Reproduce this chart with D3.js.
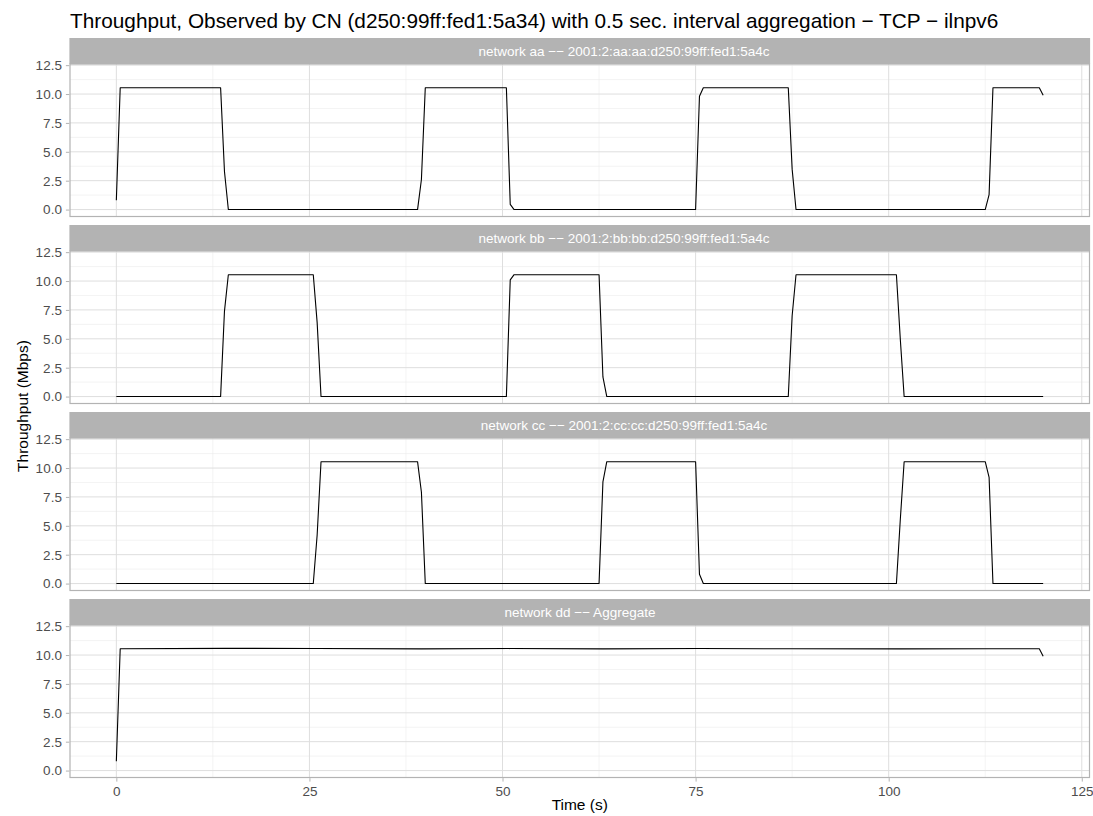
<!DOCTYPE html>
<html>
<head>
<meta charset="utf-8">
<script src="https://cdn.jsdelivr.net/npm/d3@7"></script>
<style>
  body { margin: 0; background: #fff; }
  svg text { font-family: "Liberation Sans", Arial, Helvetica, sans-serif; }
</style>
</head>
<body>
<div id="js-chart"></div>
<script>
//  Chart text
var chartTitle = "Throughput, Observed by CN (d250:99ff:fed1:5a34) with 0.5 sec. interval aggregation \u2212 TCP \u2212 ilnpv6";
var xTitle = "Time (s)";
var yTitle = "Throughput (Mbps)";

//  Facet strips
var panelNames = [
  "network aa \u2212\u2212 2001:2:aa:aa:d250:99ff:fed1:5a4c",
  "network bb \u2212\u2212 2001:2:bb:bb:d250:99ff:fed1:5a4c",
  "network cc \u2212\u2212 2001:2:cc:cc:d250:99ff:fed1:5a4c",
  "network dd \u2212\u2212 Aggregate"
];

//  Series: [time (s), throughput (Mbps)] at each corner of the line
var networkAA = [
  [0, 0.8], [0.5, 10.55], [13.5, 10.55], [14, 3.3], [14.5, 0],
  [39, 0], [39.5, 2.6], [40, 10.55], [50.5, 10.55], [51, 0.45], [51.5, 0],
  [75, 0], [75.5, 9.8], [76, 10.55], [87, 10.55], [87.5, 3.5], [88, 0],
  [112.5, 0], [113, 1.3], [113.5, 10.55], [119.5, 10.55], [120, 9.9]
];
var networkBB = [
  [0, 0], [13.5, 0], [14, 7.4], [14.5, 10.55], [25.5, 10.55], [26, 6.4], [26.5, 0],
  [50.5, 0], [51, 10.1], [51.5, 10.55], [62.5, 10.55], [63, 1.7], [63.5, 0],
  [87, 0], [87.5, 7.0], [88, 10.55], [101, 10.55], [101.5, 5.0], [102, 0],
  [120, 0]
];
var networkCC = [
  [0, 0], [25.5, 0], [26, 4.2], [26.5, 10.55], [39, 10.55], [39.5, 7.9], [40, 0],
  [62.5, 0], [63, 8.8], [63.5, 10.55], [75, 10.55], [75.5, 0.8], [76, 0],
  [101, 0], [101.5, 5.5], [102, 10.55], [112.5, 10.55], [113, 9.2], [113.5, 0],
  [120, 0]
];
var networkDD = [
  [0, 0.8], [0.5, 10.55], [14, 10.58], [26, 10.57], [39.5, 10.53], [51, 10.56],
  [63, 10.53], [75.5, 10.57], [87.5, 10.54], [101.5, 10.53], [113, 10.54],
  [119.5, 10.55], [120, 9.9]
];
var allSeries = [networkAA, networkBB, networkCC, networkDD];

//  Ticks
var xTicks = [0, 25, 50, 75, 100, 125];
var xMinorTicks = [12.5, 37.5, 62.5, 87.5, 112.5];
var yTicks = [0, 2.5, 5, 7.5, 10, 12.5];
var yMinorTicks = [1.25, 3.75, 6.25, 8.75, 11.25];
var yTickLabels = ["0.0", "2.5", "5.0", "7.5", "10.0", "12.5"];

// ---------------------------------------------------------------------------------- //

//  Layout
var width = 1093;
var height = 816;
var panelLeft = 70;
var panelRight = 1089.5;
var firstStripTop = 38;
var panelStep = 187;
var stripHeight = 26;
var plotHeight = 152.5;
var stripTextX = [624, 624, 624, 580];

var svg;
var x;

// ---------------------------------------------------------------------------------- //

function Setup()
{
    svg = d3.select("#js-chart")
      .append("svg")
      .attr("width", width)
      .attr("height", height);

    x = d3.scaleLinear()
      .domain([-6, 126])
      .range([panelLeft, panelRight]);

    //  Title
    svg.append("text")
      .attr("x", panelLeft)
      .attr("y", 28)
      .style("font-size", "20.8px")
      .style("fill", "#000")
      .text(chartTitle);

    //  Axis titles
    svg.append("text")
      .attr("x", (panelLeft + panelRight) / 2)
      .attr("y", 810)
      .attr("text-anchor", "middle")
      .style("font-size", "15.5px")
      .text(xTitle);

    svg.append("text")
      .attr("transform", "translate(28," + 406 + ") rotate(-90)")
      .attr("text-anchor", "middle")
      .style("font-size", "15.5px")
      .text(yTitle);

    for (var i = 0; i < allSeries.length; i++)
    {
      DrawPanel(i, i == allSeries.length - 1);
    }
}
// ---------------------------------------------------------------------------------- //

function DrawPanel(index, lastPanel)
{
    var stripTop = firstStripTop + index * panelStep;
    var plotTop = stripTop + stripHeight;
    var plotBottom = plotTop + plotHeight;

    var y = d3.scaleLinear()
      .domain([-0.6, 12.6])
      .range([plotBottom, plotTop]);

    var g = svg.append("g");

    //  Minor grid
    g.selectAll(".xminor")
      .data(xMinorTicks).enter()
      .append("line")
      .attr("x1", function(d) { return x(d); })
      .attr("x2", function(d) { return x(d); })
      .attr("y1", plotTop)
      .attr("y2", plotBottom)
      .style("stroke", "#ebebeb")
      .style("stroke-width", "0.6");

    g.selectAll(".yminor")
      .data(yMinorTicks).enter()
      .append("line")
      .attr("x1", panelLeft)
      .attr("x2", panelRight)
      .attr("y1", function(d) { return y(d); })
      .attr("y2", function(d) { return y(d); })
      .style("stroke", "#ebebeb")
      .style("stroke-width", "0.6");

    //  Major grid
    g.selectAll(".xmajor")
      .data(xTicks).enter()
      .append("line")
      .attr("x1", function(d) { return x(d); })
      .attr("x2", function(d) { return x(d); })
      .attr("y1", plotTop)
      .attr("y2", plotBottom)
      .style("stroke", "#dedede")
      .style("stroke-width", "1");

    g.selectAll(".ymajor")
      .data(yTicks).enter()
      .append("line")
      .attr("x1", panelLeft)
      .attr("x2", panelRight)
      .attr("y1", function(d) { return y(d); })
      .attr("y2", function(d) { return y(d); })
      .style("stroke", "#dedede")
      .style("stroke-width", "1");

    //  Data line
    var line = d3.line()
      .x(function(d) { return x(d[0]); })
      .y(function(d) { return y(d[1]); });

    g.append("path")
      .datum(allSeries[index])
      .attr("d", line)
      .style("fill", "none")
      .style("stroke", "#000")
      .style("stroke-width", "1.1")
      .style("stroke-linejoin", "round");

    //  Panel border
    g.append("rect")
      .attr("x", panelLeft)
      .attr("y", plotTop)
      .attr("width", panelRight - panelLeft)
      .attr("height", plotHeight)
      .style("fill", "none")
      .style("stroke", "#b3b3b3")
      .style("stroke-width", "1.2");

    //  Strip
    g.append("rect")
      .attr("x", panelLeft - 0.6)
      .attr("y", stripTop)
      .attr("width", panelRight - panelLeft + 1.2)
      .attr("height", stripHeight)
      .style("fill", "#b3b3b3");

    g.append("text")
      .attr("x", stripTextX[index])
      .attr("y", stripTop + stripHeight / 2)
      .attr("dy", "0.36em")
      .attr("text-anchor", "middle")
      .style("font-size", "13.5px")
      .style("fill", "#fff")
      .text(panelNames[index]);

    //  Y axis
    var yAxis = d3.axisLeft(y)
      .tickValues(yTicks)
      .tickFormat(function(d, i) { return yTickLabels[i]; })
      .tickSize(3.5)
      .tickPadding(4);

    var yg = g.append("g")
      .attr("transform", "translate(" + (panelLeft - 0.6) + ",0)")
      .call(yAxis);
    StyleAxis(yg);

    //  X axis on the last panel only
    if (lastPanel)
    {
      var xAxis = d3.axisBottom(x)
        .tickValues(xTicks)
        .tickSize(3.5)
        .tickPadding(5);

      var xg = g.append("g")
        .attr("transform", "translate(0," + (plotBottom + 0.6) + ")")
        .call(xAxis);
      StyleAxis(xg);
    }
}
// ---------------------------------------------------------------------------------- //

function StyleAxis(axisGroup)
{
    axisGroup.select(".domain").remove();
    axisGroup.selectAll(".tick line")
      .style("stroke", "#b3b3b3")
      .style("stroke-width", "1");
    axisGroup.selectAll(".tick text")
      .style("font-size", "13.5px")
      .style("fill", "#4d4d4d")
      .style("font-family", "\"Liberation Sans\", Arial, sans-serif");
}
// ---------------------------------------------------------------------------------- //

Setup();
</script>
</body>
</html>
